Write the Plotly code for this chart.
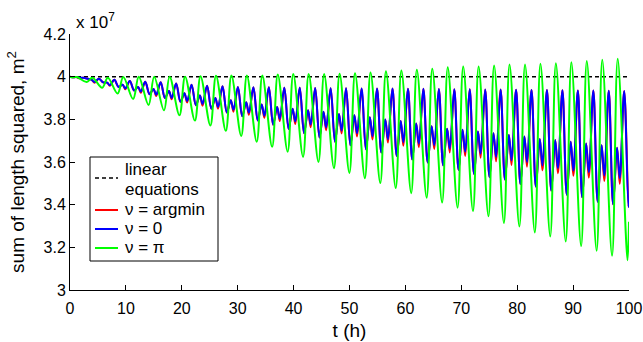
import plotly.graph_objects as go

# values in units of 1e7 m^2, time in hours
linear_t = [0, 100]
linear_y = [4.0, 4.0]

start_t = 0.0
start_y = 4.0
end_t = 100.0
green_end_y = 3.32
blue_end_y = 3.40
red_end_y = 3.44

# blue (nu = 0): main peaks
blue_peak_t = [2.40, 5.17, 7.93, 10.70, 13.46, 16.22, 18.99, 21.75, 24.52, 27.28, 30.04, 32.81,
               35.57, 38.34, 41.10, 43.86, 46.63, 49.39, 52.16, 54.92, 57.68, 60.45, 63.21, 65.98,
               68.74, 71.50, 74.27, 77.03, 79.80, 82.56, 85.32, 88.09, 90.85, 93.62, 96.38, 99.14]
blue_peak_y = [3.995, 3.990, 3.985, 3.980, 3.976, 3.974, 3.968, 3.962, 3.958, 3.955,
               3.952, 3.950, 3.950, 3.948, 3.948, 3.947, 3.946, 3.946, 3.945, 3.944,
               3.944, 3.943, 3.943, 3.942, 3.941, 3.941, 3.940, 3.940, 3.939, 3.938,
               3.937, 3.936, 3.935, 3.935, 3.934, 3.933]
# blue deep troughs
blue_trough_t = [0.41, 3.17, 5.94, 8.70, 11.47, 14.23, 16.99, 19.76, 22.52, 25.29, 28.05, 30.81,
                 33.58, 36.34, 39.11, 41.87, 44.63, 47.40, 50.16, 52.93, 55.69, 58.45, 61.22, 63.98,
                 66.75, 69.51, 72.27, 75.04, 77.80, 80.57, 83.33, 86.09, 88.86, 91.62, 94.39, 97.15, 99.91]
blue_trough_y = [3.997, 3.990, 3.973, 3.952, 3.935, 3.918, 3.900, 3.882, 3.866, 3.850,
                 3.832, 3.815, 3.795, 3.775, 3.755, 3.735, 3.715, 3.695, 3.678, 3.660,
                 3.645, 3.628, 3.612, 3.598, 3.584, 3.563, 3.544, 3.529, 3.518, 3.497,
                 3.485, 3.466, 3.447, 3.435, 3.414, 3.402, 3.390]
# blue secondary bumps
blue_bump_t = [1.12, 3.88, 6.65, 9.41, 12.18, 14.94, 17.70, 20.47, 23.23, 26.00, 28.76, 31.52,
               34.29, 37.05, 39.82, 42.58, 45.34, 48.11, 50.87, 53.64, 56.40, 59.16, 61.93, 64.69,
               67.46, 70.22, 72.98, 75.75, 78.51, 81.28, 84.04, 86.80, 89.57, 92.33, 95.10, 97.86]
blue_bump_y = [3.998, 3.985, 3.972, 3.962, 3.952, 3.942, 3.933, 3.922, 3.912, 3.900,
               3.890, 3.880, 3.870, 3.858, 3.850, 3.842, 3.835, 3.825, 3.819, 3.810,
               3.799, 3.792, 3.780, 3.767, 3.756, 3.751, 3.743, 3.735, 3.727, 3.719,
               3.708, 3.703, 3.695, 3.687, 3.679, 3.667]
# blue secondary dips
blue_dip_t = [1.60, 4.36, 7.13, 9.89, 12.66, 15.42, 18.18, 20.95, 23.71, 26.48, 29.24, 32.00,
              34.77, 37.53, 40.30, 43.06, 45.82, 48.59, 51.35, 54.12, 56.88, 59.64, 62.41, 65.17,
              67.94, 70.70, 73.46, 76.23, 78.99, 81.76, 84.52, 87.28, 90.05, 92.81, 95.58, 98.34]
blue_dip_y = [3.995, 3.975, 3.960, 3.945, 3.930, 3.915, 3.900, 3.886, 3.872, 3.858,
              3.845, 3.831, 3.817, 3.803, 3.790, 3.776, 3.762, 3.748, 3.735, 3.721,
              3.707, 3.693, 3.686, 3.679, 3.663, 3.648, 3.640, 3.624, 3.608, 3.600,
              3.584, 3.571, 3.560, 3.552, 3.537, 3.525]
# red (nu = argmin): follows blue, deeper secondary dips
red_dip_y = [3.993, 3.972, 3.957, 3.941, 3.925, 3.909, 3.894, 3.879, 3.864, 3.850,
             3.836, 3.821, 3.807, 3.792, 3.778, 3.763, 3.749, 3.734, 3.720, 3.706,
             3.691, 3.676, 3.669, 3.661, 3.644, 3.628, 3.620, 3.603, 3.586, 3.578,
             3.561, 3.547, 3.536, 3.527, 3.511, 3.498]

# green (nu = pi)
green_trough_t = [0.23, 2.99, 5.76, 8.52, 11.29, 14.05, 16.81, 19.58, 22.34, 25.11, 27.87, 30.63,
                  33.40, 36.16, 38.93, 41.69, 44.45, 47.22, 49.98, 52.75, 55.51, 58.27, 61.04, 63.80,
                  66.57, 69.33, 72.09, 74.86, 77.62, 80.39, 83.15, 85.91, 88.68, 91.44, 94.21, 96.97, 99.73]
green_trough_y = [3.997, 3.975, 3.948, 3.921, 3.895, 3.867, 3.842, 3.819, 3.794, 3.771,
                  3.746, 3.722, 3.695, 3.671, 3.648, 3.624, 3.600, 3.571, 3.549, 3.524,
                  3.501, 3.478, 3.454, 3.433, 3.410, 3.386, 3.370, 3.346, 3.314, 3.298,
                  3.270, 3.251, 3.227, 3.206, 3.184, 3.160, 3.140]
green_peak_t = [1.24, 4.00, 6.77, 9.53, 12.30, 15.06, 17.82, 20.59, 23.35, 26.12, 28.88, 31.64,
                34.41, 37.17, 39.94, 42.70, 45.46, 48.23, 50.99, 53.76, 56.52, 59.28, 62.05, 64.81,
                67.58, 70.34, 73.10, 75.87, 78.63, 81.40, 84.16, 86.92, 89.69, 92.45, 95.22, 97.98]
green_peak_y = [3.998, 3.995, 3.995, 3.998, 4.000, 4.000, 4.000, 4.000, 4.002, 4.004,
                4.005, 4.005, 4.005, 4.010, 4.012, 4.013, 4.013, 4.014, 4.016, 4.020,
                4.025, 4.029, 4.032, 4.037, 4.044, 4.048, 4.048, 4.052, 4.057, 4.057,
                4.060, 4.063, 4.068, 4.073, 4.079, 4.084]

x_ticks = [0, 10, 20, 30, 40, 50, 60, 70, 80, 90, 100]
y_ticks = [3, 3.2, 3.4, 3.6, 3.8, 4, 4.2]

legend_labels = ["linear", "equations", "ν = argmin", "ν = 0", "ν = π"]
legend_colors = ["black", "#ff0000", "#0000ff", "#00ff00"]


def build(parts, end_y):
    pts = []
    for ts, ys in parts:
        pts += list(zip(ts, ys))
    pts.sort()
    pts = [(start_t, start_y)] + pts + [(end_t, end_y)]
    return [p[0] for p in pts], [p[1] for p in pts]


blue_t, blue_y = build([(blue_peak_t, blue_peak_y), (blue_trough_t, blue_trough_y),
                        (blue_bump_t, blue_bump_y), (blue_dip_t, blue_dip_y)], blue_end_y)
red_t, red_y = build([(blue_peak_t, blue_peak_y), (blue_trough_t, blue_trough_y),
                      (blue_bump_t, blue_bump_y), (blue_dip_t, red_dip_y)], red_end_y)
green_t, green_y = build([(green_trough_t, green_trough_y), (green_peak_t, green_peak_y)], green_end_y)

FONT = "Liberation Sans, Arial, Helvetica, sans-serif"

W, H = 643, 342
ML, MR, MT, MB = 70, 14, 34, 52
PW, PH = W - ML - MR, H - MT - MB


def px(x):
    return (x - ML) / PW


def py(y):
    return (H - MB - y) / PH


fig = go.Figure()
fig.add_trace(go.Scatter(x=linear_t, y=linear_y, mode="lines", name="linear equations",
                         line=dict(color="black", width=1.5, dash="4px,3px")))
fig.add_trace(go.Scatter(x=red_t, y=red_y, mode="lines", name="ν = argmin",
                         line=dict(color="#ff0000", width=2, shape="spline", smoothing=1.0)))
fig.add_trace(go.Scatter(x=blue_t, y=blue_y, mode="lines", name="ν = 0",
                         line=dict(color="#0000ff", width=2, shape="spline", smoothing=1.0)))
fig.add_trace(go.Scatter(x=green_t, y=green_y, mode="lines", name="ν = π",
                         line=dict(color="#00ff00", width=2, shape="spline", smoothing=1.0)))

# legend drawn as a boxed key (MATLAB style)
shapes = [dict(type="rect", xref="paper", yref="paper", x0=px(90), x1=px(218), y0=py(261), y1=py(157),
               line=dict(color="black", width=1), fillcolor="white", layer="above")]
sample_rows = [178, 210, 229, 248]
for i, (row, col) in enumerate(zip(sample_rows, legend_colors)):
    shapes.append(dict(type="line", xref="paper", yref="paper", x0=px(95), x1=px(118),
                       y0=py(row), y1=py(row), layer="above",
                       line=dict(color=col, width=1.5 if i == 0 else 2,
                                 dash="4px,3px" if i == 0 else "solid")))
text_rows = [169, 189, 209, 228, 247]
annotations = [dict(text="x 10<sup>7</sup>", xref="paper", yref="paper", x=0.008, y=1.0,
                    xanchor="left", yanchor="bottom", showarrow=False,
                    font=dict(size=17, family=FONT))]
for lab, row in zip(legend_labels, text_rows):
    annotations.append(dict(text=lab, xref="paper", yref="paper", x=px(123), y=py(row),
                            xanchor="left", yanchor="middle", showarrow=False,
                            font=dict(size=17, family=FONT)))

fig.update_layout(
    width=W, height=H,
    margin=dict(l=ML, r=MR, t=MT, b=MB),
    paper_bgcolor="white", plot_bgcolor="white",
    font=dict(family=FONT, size=16, color="black"),
    showlegend=False,
    xaxis=dict(range=[0, 100], tickvals=x_ticks, ticks="inside", ticklen=5,
               tickcolor="black", showline=True, linecolor="black", linewidth=1,
               showgrid=False, zeroline=False, mirror=False, automargin=False,
               ticklabeloverflow="allow", ticklabelstandoff=4,
               title=dict(text="t (h)", standoff=7), tickfont=dict(size=16)),
    yaxis=dict(range=[3, 4.2], tickvals=y_ticks, ticks="inside", ticklen=5,
               tickcolor="black", showline=True, linecolor="black", linewidth=1,
               showgrid=False, zeroline=False, mirror=False, automargin=False,
               title=dict(text="sum of length squared, m<sup>2</sup>", standoff=13),
               tickfont=dict(size=16)),
    shapes=shapes,
    annotations=annotations,
)

fig.write_html("out.html")
